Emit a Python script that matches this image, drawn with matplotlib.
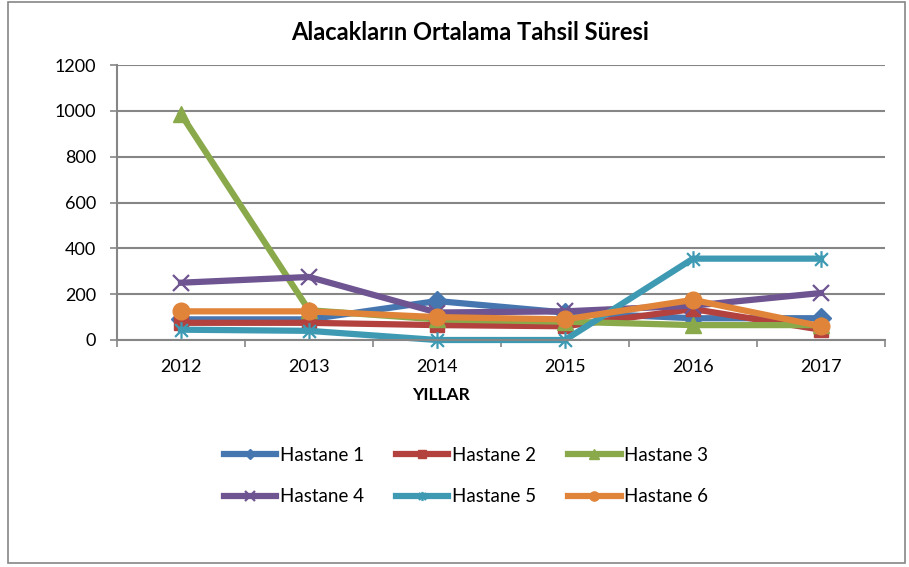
import matplotlib
matplotlib.use("Agg")
import matplotlib.pyplot as plt
from matplotlib.path import Path
from matplotlib.patches import Rectangle

plt.rcParams['font.family'] = ['Lato', 'DejaVu Sans']

years = ["2012", "2013", "2014", "2015", "2016", "2017"]
hastane_1 = [90, 90, 170, 120, 95, 95]
hastane_2 = [75, 75, 65, 60, 135, 45]
hastane_3 = [985, 130, 90, 80, 65, 65]
hastane_4 = [250, 275, 120, 125, 150, 205]
hastane_5 = [45, 40, 0, 0, 355, 355]
hastane_6 = [125, 125, 100, 90, 175, 60]
labels = ["Hastane 1", "Hastane 2", "Hastane 3", "Hastane 4", "Hastane 5", "Hastane 6"]

# x + vertical bar, like the excel star marker
star = Path([(-1, -1), (1, 1), (-1, 1), (1, -1), (0, -1.3), (0, 1.3)],
            [Path.MOVETO, Path.LINETO, Path.MOVETO, Path.LINETO, Path.MOVETO, Path.LINETO])

series = [hastane_1, hastane_2, hastane_3, hastane_4, hastane_5, hastane_6]
colors = ['#4676B0', '#B3423F', '#89A94A', '#6E5490', '#3E9AB3', '#E0843A']
markers = ['D', 's', '^', 'x', star, 'o']
msizes = [10, 10, 12, 12, 12, 12]

fig = plt.figure(figsize=(9.09, 5.67), dpi=100)
ax = fig.add_axes([117 / 909, 1 - 340 / 567, 768 / 909, 275 / 567])

x = list(range(len(years)))
handles = []
for vals, c, m, ms, lab in zip(series, colors, markers, msizes, labels):
    h, = ax.plot(x, vals, color=c, lw=4.5, marker=m, markersize=ms,
                 markeredgewidth=1.6 if m in ('x', star) else 1,
                 markeredgecolor=c, markerfacecolor=c, label=lab, solid_joinstyle='round', clip_on=False)
    handles.append(h)

ax.set_xlim(-0.5, 5.5)
ax.set_ylim(0, 1200)
ax.set_yticks(range(0, 1201, 200))
ax.set_xticks([i - 0.5 for i in range(7)])
ax.set_xticklabels([])
ax.set_xticks(x, minor=True)
ax.set_xticklabels(years, minor=True)
ax.tick_params(axis='x', which='major', length=5, color='#868686', width=1.2, direction='out')
ax.tick_params(axis='x', which='minor', length=0, pad=14, labelsize=13)
ax.tick_params(axis='y', length=5, color='#868686', width=1.2, pad=10, labelsize=13)
ax.grid(axis='y', color='#868686', lw=1.5)
ax.set_axisbelow(True)
for s in ['top', 'right']:
    ax.spines[s].set_visible(False)
for s in ['left', 'bottom']:
    ax.spines[s].set_color('#868686')
    ax.spines[s].set_linewidth(1.5)

fig.text(470 / 909, 1 - 33 / 567, "Alacakların Ortalama Tahsil Süresi", ha='center', va='center',
         fontsize=17, fontweight='bold')
fig.text(441 / 909, 1 - 395 / 567, "YILLAR", ha='center', va='center', fontsize=12.5, fontweight='bold')

# legend fills by column, so reorder to read row-wise
order = [0, 3, 1, 4, 2, 5]
fig.legend([handles[i] for i in order], [labels[i] for i in order],
           loc='center', bbox_to_anchor=(466 / 909, 1 - 476 / 567), ncol=3, frameon=False,
           fontsize=13.5, handlelength=2.8, handletextpad=0.2, columnspacing=1.7, labelspacing=1.3,
           markerscale=0.55)

fig.patches.append(Rectangle((8 / 909, 4 / 567), 897 / 909, 561 / 567, transform=fig.transFigure,
                             fill=False, edgecolor='#868686', lw=1.2))

fig.savefig("out.png", dpi=100)
